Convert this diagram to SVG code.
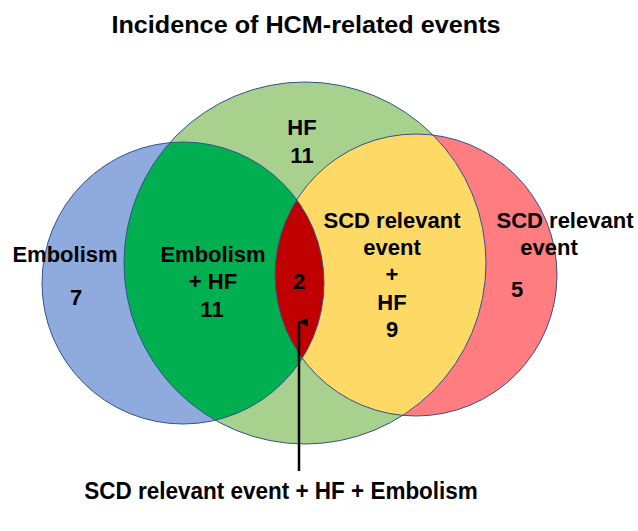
<svg xmlns="http://www.w3.org/2000/svg" width="638" height="531" viewBox="0 0 638 531">
<style>
text{font-family:"Liberation Sans",Arial,sans-serif;font-weight:bold;fill:#000;text-anchor:middle}
.lbl{font-size:22px}
.outline{fill:none;stroke:#2F528F;stroke-width:1}
</style>
<defs>
<circle id="cBlue" cx="183" cy="283" r="141"/>
<circle id="cGreen" cx="305" cy="263" r="181"/>
<circle id="cScd" cx="416" cy="275" r="141"/>
<clipPath id="clipGreen"><use href="#cGreen"/></clipPath>
<clipPath id="clipScd"><use href="#cScd"/></clipPath>
<marker id="arr" markerWidth="8" markerHeight="10" refX="4" refY="1" orient="auto-start-reverse" markerUnits="userSpaceOnUse" viewBox="0 0 8 10">
<path d="M0,10 L4,0 L8,10 Z" fill="#000"/>
</marker>
</defs>
<rect width="638" height="531" fill="#fff"/>
<text transform="translate(306,33) scale(1.05,1)" style="font-size:24px">Incidence of HCM-related events</text>
<g id="embolism">
<use href="#cBlue" fill="#8FAADC"/>
</g>
<g id="hf">
<use href="#cGreen" fill="#A9D18E"/>
</g>
<g id="scd">
<use href="#cScd" fill="#FF7C80"/>
</g>
<g id="embolism-hf">
<use href="#cBlue" fill="#00B050" clip-path="url(#clipGreen)"/>
</g>
<g id="scd-hf">
<use href="#cScd" fill="#FFD966" clip-path="url(#clipGreen)"/>
</g>
<g id="all-three">
<use href="#cBlue" fill="#C00000" clip-path="url(#clipScd)"/>
</g>
<g id="outlines">
<use href="#cBlue" class="outline"/>
<use href="#cGreen" class="outline"/>
<use href="#cScd" class="outline"/>
</g>
<g id="labels">
<text class="lbl" x="302" y="135">HF</text>
<text class="lbl" x="302" y="163">11</text>
<text class="lbl" x="65" y="262">Embolism</text>
<text class="lbl" x="76" y="305">7</text>
<text class="lbl" x="213" y="262">Embolism</text>
<text class="lbl" x="213" y="289">+ HF</text>
<text class="lbl" x="212" y="317">11</text>
<text class="lbl" x="299" y="289">2</text>
<text class="lbl" x="392" y="228">SCD relevant</text>
<text class="lbl" x="392" y="255">event</text>
<text class="lbl" x="392" y="282">+</text>
<text class="lbl" x="392" y="310">HF</text>
<text class="lbl" x="392" y="337">9</text>
<text class="lbl" x="565" y="228">SCD relevant</text>
<text class="lbl" x="549" y="255">event</text>
<text class="lbl" x="517" y="297">5</text>
</g>
<g id="connectors">
<line x1="299" y1="471" x2="299" y2="322" stroke="#000" stroke-width="2.5" marker-end="url(#arr)"/>
</g>
<text transform="translate(281,499) scale(1,1.1)" style="font-size:22.5px">SCD relevant event + HF + Embolism</text>
</svg>
